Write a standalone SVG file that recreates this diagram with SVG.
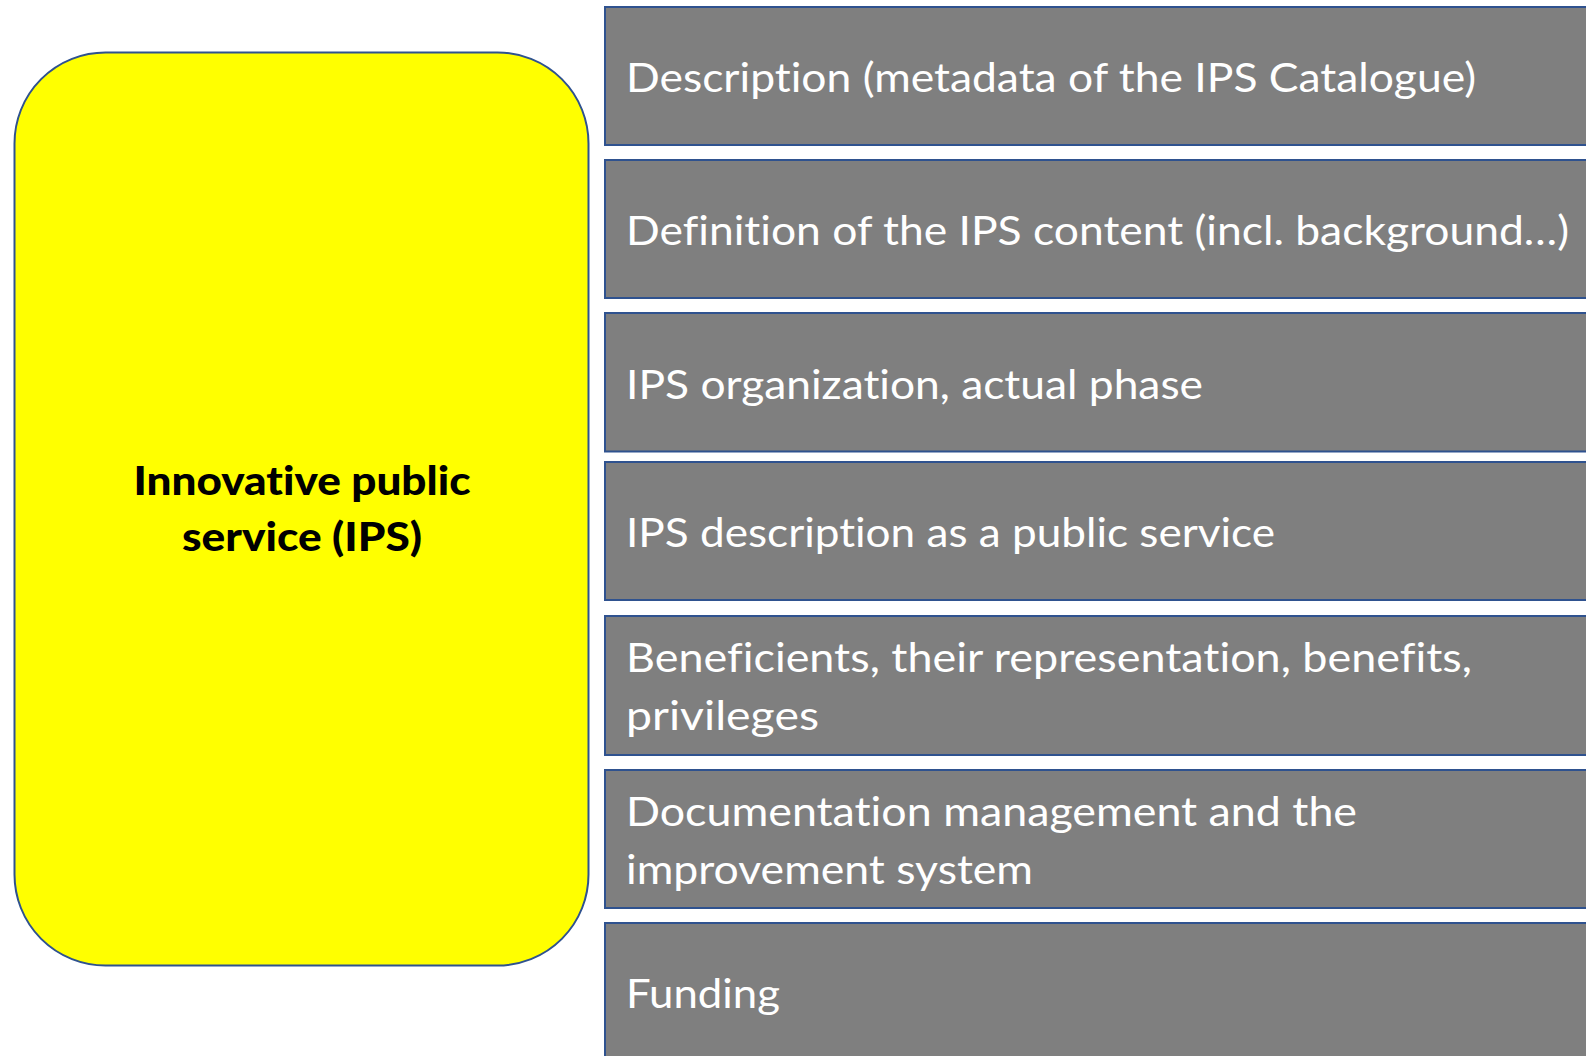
<svg xmlns="http://www.w3.org/2000/svg" width="1586" height="1056" viewBox="0 0 1586 1056">
<style>
.bar{fill:#7F7F7F;stroke:#2F528F;stroke-width:2}
.lbl{font-family:Lato,"Open Sans","Liberation Sans",sans-serif;font-size:40px;fill:#FFFFFF;font-variant-ligatures:none}
.ttl{font-family:Lato,"Open Sans","Liberation Sans",sans-serif;font-size:39px;font-weight:900;fill:#000000;text-anchor:middle;font-variant-ligatures:none}
</style>
<rect width="1586" height="1056" fill="#FFFFFF"/>
<g id="ips">
<rect x="14.5" y="52.5" width="574" height="913" rx="91" ry="91" fill="#FFFF00" stroke="#2F528F" stroke-width="2"/>
<text class="ttl" x="302" y="495" textLength="337" lengthAdjust="spacingAndGlyphs">Innovative public</text>
<text class="ttl" x="302" y="551" textLength="240" lengthAdjust="spacingAndGlyphs">service (IPS)</text>
</g>
<g id="connectors"></g>
<g id="item1">
<rect class="bar" x="605" y="7" width="1000" height="138"/>
<text class="lbl" x="626" y="92" textLength="850" lengthAdjust="spacingAndGlyphs">Description (metadata of the IPS Catalogue)</text>
</g>
<g id="item2">
<rect class="bar" x="605" y="160" width="1000" height="138"/>
<text class="lbl" x="626" y="245" textLength="943" lengthAdjust="spacingAndGlyphs">Definition of the IPS content (incl. background…)</text>
</g>
<g id="item3">
<rect class="bar" x="605" y="313" width="1000" height="138.5"/>
<text class="lbl" x="626" y="398.5" textLength="577" lengthAdjust="spacingAndGlyphs">IPS organization, actual phase</text>
</g>
<g id="item4">
<rect class="bar" x="605" y="462" width="1000" height="138"/>
<text class="lbl" x="626" y="547" textLength="649" lengthAdjust="spacingAndGlyphs">IPS description as a public service</text>
</g>
<g id="item5">
<rect class="bar" x="605" y="616" width="1000" height="139"/>
<text class="lbl" x="626" y="672" textLength="846" lengthAdjust="spacingAndGlyphs">Beneficients, their representation, benefits,</text>
<text class="lbl" x="626" y="730" textLength="193" lengthAdjust="spacingAndGlyphs">privileges</text>
</g>
<g id="item6">
<rect class="bar" x="605" y="770" width="1000" height="138"/>
<text class="lbl" x="626" y="826" textLength="731" lengthAdjust="spacingAndGlyphs">Documentation management and the</text>
<text class="lbl" x="626" y="884" textLength="407" lengthAdjust="spacingAndGlyphs">improvement system</text>
</g>
<g id="item7">
<rect class="bar" x="605" y="923" width="1000" height="160"/>
<text class="lbl" x="626" y="1008" textLength="154" lengthAdjust="spacingAndGlyphs">Funding</text>
</g>
</svg>
